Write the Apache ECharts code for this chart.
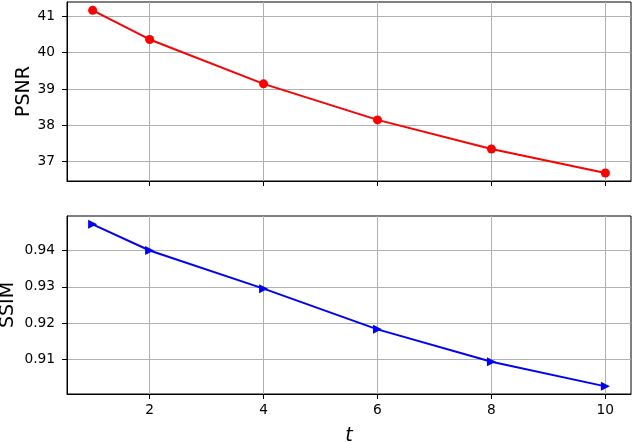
<!DOCTYPE html>
<html>
<head>
<meta charset="utf-8">
<script src="https://cdn.jsdelivr.net/npm/echarts@6/dist/echarts.min.js"></script>
<style>html,body{margin:0;padding:0;background:#fff}#c{width:634px;height:442px}</style>
</head>
<body>
<div id="c"></div>
<script>
const tValues = [1, 2, 4, 6, 8, 10];
const psnrValues = [41.16, 40.36, 39.14, 38.15, 37.35, 36.69];
const ssimValues = [0.9472, 0.9400, 0.9295, 0.9183, 0.9094, 0.9026];
const xTicks = [2, 4, 6, 8, 10];
const psnrTicks = [37, 38, 39, 40, 41];
const ssimTicks = [0.91, 0.92, 0.93, 0.94];

const FONT = 'DejaVu Sans';
const chart = echarts.init(document.getElementById('c'), null, {renderer: 'canvas'});

function xAxisDef(gridIndex, showLabels, name) {
  return {
    type: 'value', gridIndex: gridIndex, min: 0.55, max: 10.45,
    name: name, nameLocation: 'middle', nameGap: 33, nameMoveOverlap: false,
    nameTextStyle: {fontFamily: FONT, fontSize: 19, fontStyle: 'italic', color: '#000'},
    axisLine: {show: true, onZero: false, lineStyle: {color: '#000', width: 1}},
    axisTick: {show: true, length: 5, customValues: xTicks, lineStyle: {color: '#000', width: 1}},
    axisLabel: {show: showLabels, customValues: xTicks, margin: 9, fontFamily: FONT, fontSize: 13.75, color: '#000'},
    splitLine: {show: true, lineStyle: {color: '#b0b0b0', width: 1}}
  };
}
function yAxisDef(gridIndex, min, max, ticks, name, gap) {
  return {
    type: 'value', gridIndex: gridIndex, min: min, max: max,
    name: name, nameLocation: 'middle', nameGap: gap, nameRotate: 90, nameMoveOverlap: false,
    nameTextStyle: {fontFamily: FONT, fontSize: 19, color: '#000'},
    axisLine: {show: true, onZero: false, lineStyle: {color: '#000', width: 1}},
    axisTick: {show: true, length: 5, customValues: ticks, lineStyle: {color: '#000', width: 1}},
    axisLabel: {show: true, customValues: ticks, margin: 12, fontFamily: FONT, fontSize: 13.75, color: '#000'},
    splitLine: {show: true, lineStyle: {color: '#b0b0b0', width: 1}}
  };
}

chart.setOption({
  animation: false,
  backgroundColor: '#fff',
  grid: [
    {left: 67, top: 2, width: 564, height: 179, containLabel: false, outerBoundsMode: 'none', show: true, borderColor: '#000', borderWidth: 1, backgroundColor: 'transparent'},
    {left: 67, top: 216, width: 564, height: 178, containLabel: false, outerBoundsMode: 'none', show: true, borderColor: '#000', borderWidth: 1, backgroundColor: 'transparent'}
  ],
  xAxis: [xAxisDef(0, false, ''), xAxisDef(1, true, 't')],
  yAxis: [
    yAxisDef(0, 36.47, 41.39, psnrTicks, 'PSNR', 33),
    yAxisDef(1, 0.9005, 0.9495, ssimTicks, 'SSIM', 49)
  ],
  series: [
    {
      type: 'line', xAxisIndex: 0, yAxisIndex: 0,
      data: tValues.map((t, i) => [t, psnrValues[i]]),
      symbol: 'circle', symbolSize: 9, showSymbol: true,
      lineStyle: {color: '#ff0000', width: 2},
      itemStyle: {color: '#ff0000'}
    },
    {
      type: 'line', xAxisIndex: 1, yAxisIndex: 1,
      data: tValues.map((t, i) => [t, ssimValues[i]]),
      symbol: 'path://M0,0L10,5L0,10Z', symbolSize: 9, showSymbol: true,
      lineStyle: {color: '#0000ff', width: 2},
      itemStyle: {color: '#0000ff'}
    }
  ]
});
</script>
</body>
</html>
